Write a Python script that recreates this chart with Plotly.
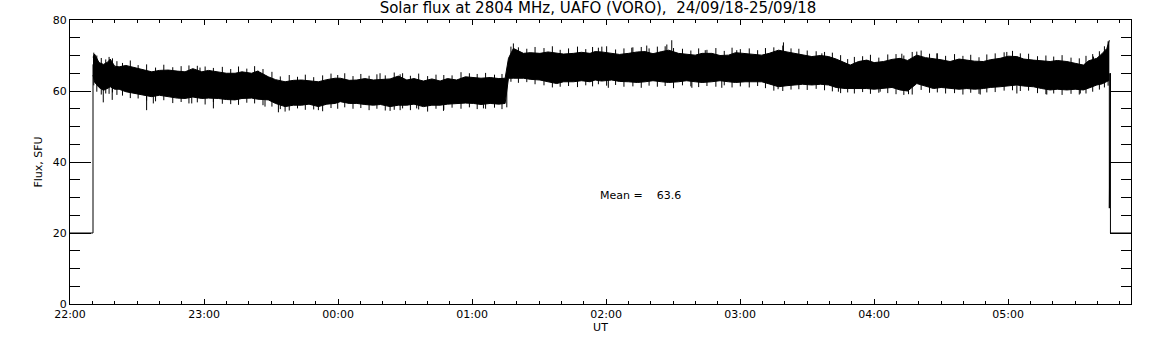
import pandas as pd
import numpy as np
import plotly.graph_objects as go

BASE = pd.Timestamp("2018-09-24 22:00")

# minutes after 22:00 UT, upper / lower envelope of the flux record (SFU)
t_env = [10.3, 11, 13, 15, 17, 18, 20, 22, 25, 29, 32, 36.6, 40, 44, 48, 51.5, 55, 59, 62, 66.4,
         70, 73.9, 77, 81.3, 84, 88.8, 92, 96.3, 100, 103.7, 107, 111.2, 115, 118.7, 121, 125,
         128.4, 132, 135.8, 139, 143.3, 147, 150.8, 154, 158.2, 162, 165.7, 169, 173.1, 177,
         180.6, 184, 188.1, 192, 194.8, 196.3, 198.5, 203, 206, 210.4, 214, 217.9, 221, 225.4,
         229, 232.8, 235.1, 238, 242.5, 246, 250, 254, 257.5, 261, 264.9, 268, 272.4, 276,
         279.9, 283, 287.3, 291, 294.8, 298, 302.2, 306, 309.7, 313, 317.2, 321, 324.6, 328,
         332.1, 336, 339.6, 343, 347, 349.3, 353, 356.7, 360, 364.2, 368, 371.6, 375, 379.1,
         383, 386.6, 390, 394, 398, 401.5, 405, 408.9, 412, 416.4, 420, 423.9, 427, 431.3,
         435, 438.8, 442, 446.3, 450, 453.7, 456, 459.7, 462, 464.2, 465.3]
upper = [69.5, 70.4, 68.0, 67.5, 68.2, 69.0, 67.0, 66.8, 67.2, 66.6, 66.0, 65.4, 65.8, 65.9, 65.6,
         65.4, 66.3, 65.4, 65.8, 65.4, 65.0, 65.0, 65.4, 65.0, 65.6, 64.0, 63.2, 62.6, 63.0, 63.1,
         62.9, 62.6, 63.2, 63.6, 63.6, 63.0, 63.1, 63.5, 63.1, 63.3, 63.4, 64.2, 63.1, 63.5, 62.8,
         63.4, 62.8, 63.5, 63.1, 64.0, 63.8, 63.6, 63.8, 63.5, 63.6, 69.2, 72.0, 70.6, 70.8, 70.6,
         71.0, 70.6, 70.4, 70.6, 70.9, 70.6, 71.1, 71.0, 70.6, 70.3, 70.6, 71.0, 71.1, 70.5, 71.1,
         71.5, 70.6, 70.3, 70.1, 70.6, 70.6, 70.0, 70.1, 70.8, 70.6, 70.3, 70.1, 70.6, 71.5, 71.0,
         70.6, 70.3, 69.7, 70.0, 69.7, 69.0, 67.8, 67.3, 68.3, 68.7, 68.0, 68.3, 68.9, 69.2, 68.6,
         70.1, 69.4, 69.2, 68.8, 68.3, 69.0, 68.7, 68.4, 68.3, 68.8, 69.2, 69.8, 69.7, 69.0, 68.7,
         68.5, 68.3, 68.6, 68.3, 67.8, 67.3, 68.5, 69.2, 70.5, 72.0, 74.3]
lower = [64.5, 62.5, 61.0, 60.2, 60.8, 61.2, 60.5, 60.5, 59.8, 59.3, 59.0, 58.4, 58.8, 58.4, 58.0,
         57.9, 58.3, 57.9, 58.0, 57.9, 57.6, 57.5, 57.9, 58.0, 57.7, 57.5, 56.5, 55.6, 56.0, 56.0,
         56.3, 55.6, 56.3, 56.5, 57.0, 56.5, 56.5, 56.2, 56.0, 56.2, 55.6, 56.0, 56.0, 56.3, 55.6,
         56.0, 56.0, 56.3, 56.5, 56.6, 56.5, 56.2, 56.5, 56.3, 56.5, 63.6, 63.6, 63.6, 63.3, 63.1,
         62.6, 62.1, 62.6, 62.6, 62.9, 62.6, 63.1, 62.8, 63.1, 62.7, 62.6, 62.4, 62.6, 62.9, 62.6,
         62.4, 62.6, 62.9, 62.6, 62.4, 62.6, 62.9, 62.6, 62.4, 62.6, 62.5, 62.6, 62.0, 61.2, 61.5,
         61.7, 61.9, 61.7, 61.9, 61.7, 61.0, 60.7, 60.7, 60.9, 60.7, 60.5, 60.7, 61.0, 60.3, 60.0,
         62.1, 61.4, 60.7, 61.0, 60.7, 60.5, 60.7, 60.5, 60.7, 61.0, 61.2, 61.5, 61.7, 61.4, 61.2,
         60.7, 60.3, 60.5, 60.3, 60.5, 60.3, 60.8, 61.7, 62.0, 62.6, 63.0]

# ragged noise peaks between envelope samples (one per interval of t_env), SFU
teeth_up = [70.8, 70.0, 69.3, 68.9, 69.6, 69.2, 68.4, 67.9, 68.6, 67.3, 67.5, 66.6, 67.4, 66.7,
            67.0, 67.2, 67.1, 66.9, 66.5, 66.8, 66.2, 66.9, 66.3, 67.0, 66.2, 65.4, 64.1, 64.5,
            64.0, 64.6, 63.9, 64.4, 64.9, 64.5, 65.0, 64.2, 64.8, 64.3, 64.7, 64.4, 65.2, 65.0,
            64.3, 64.9, 64.2, 64.6, 64.5, 64.4, 65.3, 65.0, 64.8, 65.1, 64.6, 64.8, 64.5, 72.5,
            72.3, 71.9, 72.4, 72.1, 72.6, 71.6, 72.0, 72.5, 71.8, 72.4, 72.2, 72.6, 71.7, 72.0,
            72.3, 72.4, 72.0, 72.5, 72.6, 72.1, 71.9, 71.4, 72.0, 71.6, 72.1, 71.3, 72.2, 71.8,
            72.0, 71.5, 72.1, 72.3, 72.8, 72.0, 71.9, 71.4, 71.2, 71.0, 70.8, 70.1, 69.0, 69.6,
            69.8, 70.2, 69.4, 70.3, 70.4, 70.0, 71.0, 71.4, 70.5, 70.6, 69.9, 70.4, 69.9, 70.2,
            69.5, 70.3, 70.6, 70.9, 71.3, 70.6, 70.5, 69.8, 70.0, 69.7, 70.1, 69.4, 69.2, 69.9,
            70.4, 71.2, 72.6, 74.0]
teeth_dn = [61.6, 59.8, 59.0, 59.3, 59.2, 59.6, 58.9, 58.7, 58.0, 57.9, 57.3, 57.1, 57.4, 56.6,
            56.9, 56.5, 56.8, 56.2, 56.9, 56.4, 56.3, 56.1, 56.7, 56.5, 56.0, 55.6, 54.9, 54.5,
            55.1, 54.7, 54.8, 54.3, 55.2, 55.0, 55.4, 55.0, 55.2, 54.6, 55.0, 54.5, 54.7, 55.1,
            54.6, 54.8, 54.2, 55.0, 54.7, 55.3, 55.0, 55.4, 54.9, 55.0, 55.3, 54.9, 55.4, 62.6,
            62.3, 62.5, 61.9, 61.6, 61.0, 61.2, 61.4, 61.1, 61.6, 61.3, 61.9, 61.5, 61.7, 61.2,
            61.3, 60.9, 61.5, 61.2, 61.4, 60.8, 61.6, 61.3, 61.1, 61.4, 61.2, 61.6, 61.0, 61.3,
            61.0, 61.4, 60.8, 60.1, 60.0, 60.4, 60.5, 60.3, 60.6, 60.2, 59.9, 59.4, 59.6, 59.3,
            59.7, 59.2, 59.5, 59.4, 59.1, 58.9, 59.0, 60.3, 59.5, 59.6, 59.3, 59.4, 59.0, 59.5,
            59.2, 59.6, 59.7, 60.1, 60.2, 60.0, 60.1, 59.4, 59.1, 59.3, 58.9, 59.2, 59.0, 59.3,
            59.8, 60.4, 61.0, 61.5]

# individual spikes reaching beyond the envelope (minutes, SFU)
spike_t = [14.9, 18.9, 34.3, 37.3, 54.5, 64.2, 87.3, 93.3, 96.3, 111.2, 143.3, 147.8, 155.2,
           167.2, 185.1, 241.0, 278.4, 291.8, 317.0, 344.0, 362.7, 375.4, 407.5, 423.9, 437.3,
           452.3,
           58.2, 84.3, 138.8, 147.8, 198.5, 238.1, 251.5, 258.2, 267.2, 269.4, 284.4, 298.5,
           319.4, 336.6, 372.4, 379.1, 388.1, 419.4, 458.2]
spike_v = [56.8, 57.5, 54.6, 56.5, 56.5, 55.1, 55.6, 54.0, 54.2, 54.6, 54.4, 54.6, 55.1,
           54.4, 55.1, 60.9, 60.9, 60.9, 60.5, 59.8, 59.8, 59.1, 59.0, 59.3, 59.0,
           59.3,
           66.6, 65.7, 65.0, 64.7, 73.4, 72.5, 72.2, 72.8, 73.1, 74.3, 71.5, 71.5,
           73.7, 70.6, 70.5, 71.1, 70.6, 71.0, 69.7]

# record start / end (receiver off level 20 SFU)
lead_t = [0, 10.3, 10.3]
lead_v = [20, 20, 67.5]
tail_t = [465.3, 465.3, 465.8, 465.8, 475.0]
tail_v = [65, 27, 65, 20, 20]

x_end_min = 475.0
mean_text = "Mean =    63.6"
mean_pos = (236.4, 30.7)


def tt(mins):
    return [BASE + pd.Timedelta(minutes=float(m)) for m in mins]


fig = go.Figure()
fig.add_trace(go.Scatter(x=tt(t_env), y=upper, mode="lines",
                         line=dict(color="black", width=1), hoverinfo="skip"))
fig.add_trace(go.Scatter(x=tt(t_env), y=lower, mode="lines", fill="tonexty",
                         fillcolor="black", line=dict(color="black", width=1),
                         hoverinfo="skip"))

# vertical needles: teeth at interval midpoints plus the larger spikes
tooth_t = [(a + b) / 2 for a, b in zip(t_env[:-1], t_env[1:])]
needle_t = tooth_t + tooth_t + spike_t
needle_v = teeth_up + teeth_dn + spike_v
sx, sy = [], []
for t, v in zip(needle_t, needle_v):
    base_v = float(np.interp(t, t_env, lower) + np.interp(t, t_env, upper)) / 2
    ts = BASE + pd.Timedelta(minutes=t)
    sx += [ts, ts, None]
    sy += [base_v, v, None]
fig.add_trace(go.Scatter(x=sx, y=sy, mode="lines", line=dict(color="black", width=1),
                         hoverinfo="skip"))
fig.add_trace(go.Scatter(x=tt(lead_t), y=lead_v, mode="lines",
                         line=dict(color="black", width=1), hoverinfo="skip"))
fig.add_trace(go.Scatter(x=tt(tail_t), y=tail_v, mode="lines",
                         line=dict(color="black", width=1), hoverinfo="skip"))

FONT = "DejaVu Sans"
fig.add_annotation(x=BASE + pd.Timedelta(minutes=mean_pos[0]), y=mean_pos[1],
                   text=mean_text.replace(" ", "\u00a0"), showarrow=False,
                   xanchor="left", yanchor="middle",
                   font=dict(family=FONT, size=11, color="black"))

fig.update_layout(
    width=1152, height=345,
    margin=dict(l=70, r=21, t=20, b=41),
    paper_bgcolor="white", plot_bgcolor="white",
    showlegend=False,
    font=dict(family=FONT, size=11, color="black"),
    title=dict(text="Solar flux at 2804 MHz, UAFO (VORO),\u00a0\u00a024/09/18-25/09/18",
               x=598 / 1152, xanchor="center", y=1 - 8 / 345, yanchor="middle", yref="container",
               font=dict(family=FONT, size=15, color="black")),
    xaxis=dict(type="date", range=[BASE, BASE + pd.Timedelta(minutes=x_end_min)],
               tickformat="%H:%M", tick0=BASE, dtick=3600000,
               ticks="inside", ticklen=5, tickwidth=1, tickcolor="black",
               minor=dict(dtick=600000, tick0=BASE, ticks="inside", ticklen=3,
                          tickwidth=1, tickcolor="black", showgrid=False),
               showline=True, linecolor="black", linewidth=1, mirror="ticks",
               showgrid=False, zeroline=False,
               title=dict(text="UT", standoff=2, font=dict(size=11))),
    yaxis=dict(range=[0, 80], dtick=20, tick0=0,
               ticks="inside", ticklen=21, tickwidth=1, tickcolor="black",
               minor=dict(dtick=5, ticks="inside", ticklen=10, tickwidth=1,
                          tickcolor="black", showgrid=False),
               showline=True, linecolor="black", linewidth=1, mirror="ticks",
               showgrid=False, zeroline=False,
               title=dict(text="Flux, SFU", standoff=7, font=dict(size=11))),
)

fig.write_html("out.html", config={"displayModeBar": False},
               post_script="document.body.style.margin='0';document.body.style.padding='0';")
